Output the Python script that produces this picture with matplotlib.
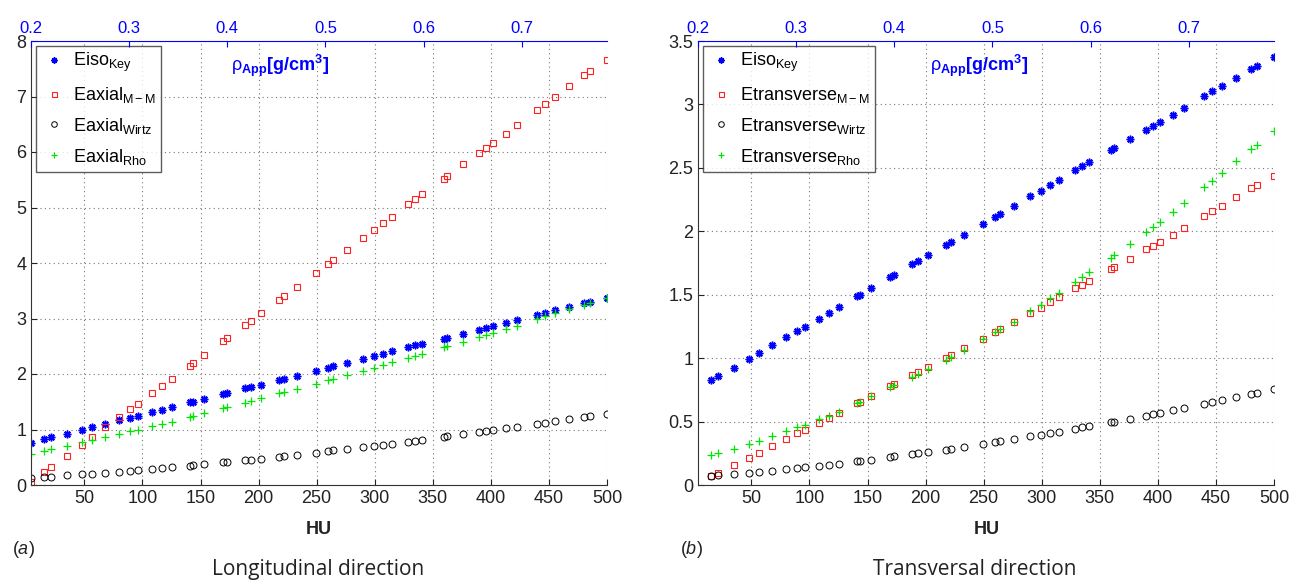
import matplotlib
matplotlib.use("Agg")
import matplotlib.pyplot as plt

plt.rcParams['font.family'] = ['Liberation Sans', 'DejaVu Sans']
plt.rcParams['mathtext.fontset'] = 'custom'
plt.rcParams['mathtext.rm'] = 'Liberation Sans'
plt.rcParams['mathtext.it'] = 'Liberation Sans:italic'
plt.rcParams['mathtext.bf'] = 'Liberation Sans:bold'

# HU values (shared by all series)
hu = [4, 15.5, 21, 35, 48, 56.5, 68, 80, 89.5, 96, 108, 117, 125, 141, 143.5,
      153, 169, 173, 188.5, 193.5, 202, 217.5, 222, 233, 249, 260, 264, 276,
      290, 299, 307, 315, 329, 335, 341, 360, 362, 376, 390, 396, 402, 413,
      422.5, 440, 447, 455.5, 467.5, 480, 485, 500]

eiso_key = [0.76, 0.828, 0.857, 0.925, 0.996, 1.04, 1.10, 1.164, 1.214, 1.248,
            1.311, 1.356, 1.40, 1.487, 1.50, 1.553, 1.637, 1.658, 1.739, 1.766,
            1.81, 1.892, 1.915, 1.972, 2.055, 2.112, 2.139, 2.197, 2.275, 2.32,
            2.365, 2.407, 2.48, 2.514, 2.546, 2.638, 2.656, 2.727, 2.80, 2.83,
            2.861, 2.919, 2.974, 3.066, 3.103, 3.148, 3.211, 3.279, 3.305, 3.376]

# longitudinal (a)
eaxial_mm = [0.054, 0.234, 0.324, 0.528, 0.726, 0.858, 1.037, 1.223, 1.367, 1.463,
             1.649, 1.781, 1.907, 2.153, 2.195, 2.339, 2.59, 2.645, 2.885, 2.963,
             3.094, 3.328, 3.40, 3.574, 3.814, 3.988, 4.054, 4.228, 4.456, 4.588,
             4.714, 4.834, 5.055, 5.145, 5.241, 5.517, 5.565, 5.775, 5.985, 6.081,
             6.165, 6.333, 6.483, 6.759, 6.867, 6.998, 7.184, 7.382, 7.454, 7.658]
eaxial_wirtz = [0.132, 0.144, 0.15, 0.174, 0.192, 0.204, 0.222, 0.24, 0.258, 0.27,
                0.288, 0.30, 0.318, 0.348, 0.354, 0.372, 0.408, 0.414, 0.444, 0.45,
                0.474, 0.51, 0.516, 0.54, 0.582, 0.606, 0.624, 0.648, 0.684, 0.70,
                0.726, 0.744, 0.78, 0.792, 0.81, 0.87, 0.876, 0.912, 0.948, 0.966,
                0.984, 1.02, 1.043, 1.097, 1.115, 1.145, 1.181, 1.223, 1.235, 1.277]
eaxial_rho = [0.564, 0.618, 0.642, 0.70, 0.768, 0.81, 0.87, 0.924, 0.972, 1.00,
              1.06, 1.103, 1.139, 1.229, 1.241, 1.289, 1.379, 1.397, 1.481, 1.505,
              1.559, 1.649, 1.673, 1.733, 1.823, 1.883, 1.913, 1.973, 2.063, 2.117,
              2.165, 2.213, 2.297, 2.333, 2.369, 2.489, 2.501, 2.579, 2.669, 2.705,
              2.741, 2.813, 2.873, 2.993, 3.041, 3.094, 3.172, 3.244, 3.28, 3.37]

# transversal (b) - starts at second HU value
etrans_mm = [0.07, 0.092, 0.155, 0.215, 0.255, 0.307, 0.363, 0.407, 0.436, 0.491,
             0.531, 0.568, 0.644, 0.654, 0.70, 0.778, 0.796, 0.864, 0.891, 0.933,
             1.004, 1.025, 1.077, 1.153, 1.206, 1.227, 1.282, 1.353, 1.395, 1.44,
             1.479, 1.55, 1.579, 1.611, 1.70, 1.716, 1.784, 1.858, 1.886, 1.918,
             1.973, 2.026, 2.12, 2.157, 2.202, 2.267, 2.338, 2.365, 2.438]
etrans_wirtz = [0.071, 0.076, 0.087, 0.095, 0.102, 0.11, 0.123, 0.131, 0.139, 0.15,
                0.158, 0.166, 0.187, 0.189, 0.20, 0.221, 0.226, 0.244, 0.25, 0.26,
                0.279, 0.284, 0.30, 0.32, 0.336, 0.344, 0.36, 0.384, 0.397, 0.41,
                0.42, 0.444, 0.455, 0.465, 0.494, 0.499, 0.523, 0.547, 0.557, 0.568,
                0.589, 0.607, 0.638, 0.652, 0.667, 0.691, 0.715, 0.725, 0.754]
etrans_rho = [0.236, 0.25, 0.286, 0.323, 0.347, 0.384, 0.423, 0.455, 0.476, 0.518,
              0.544, 0.578, 0.644, 0.657, 0.70, 0.77, 0.786, 0.854, 0.872, 0.912,
              0.988, 1.009, 1.062, 1.148, 1.206, 1.227, 1.287, 1.372, 1.421, 1.474,
              1.516, 1.603, 1.64, 1.676, 1.789, 1.81, 1.90, 1.994, 2.034, 2.073,
              2.149, 2.22, 2.346, 2.396, 2.459, 2.551, 2.651, 2.683, 2.793]

hu_ticks = [50, 100, 150, 200, 250, 300, 350, 400, 450, 500]
rho_ticks = [0.2, 0.3, 0.4, 0.5, 0.6, 0.7]

BLUE = '#0000ff'
RED = '#ff2020'
GREEN = '#00e600'


def draw_panel(ax, x, series, labels, ylim, yticks, ytlabels, rho_x):
    styles = [dict(marker=(8, 2, 0), color=BLUE, ms=5.5, mew=1.1),
              dict(marker='s', color=RED, ms=4.5, mew=0.8, mfc='none'),
              dict(marker='o', color='black', ms=5, mew=0.7, mfc='none'),
              dict(marker='+', color=GREEN, ms=6, mew=0.9)]
    for (xs, ys), lab, st in zip(series, labels, styles):
        ax.plot(xs, ys, linestyle='none', label=lab, **st)

    ax.set_xlim(4, 500)
    ax.set_ylim(*ylim)
    ax.set_xticks(hu_ticks)
    ax.set_yticks(yticks)
    ax.set_yticklabels(ytlabels)
    ax.tick_params(direction='in', length=4, labelsize=13, colors='#222222')
    ax.grid(True, linestyle=(0, (1, 3)), color='#777777', linewidth=0.8)
    ax.spines['top'].set_visible(False)
    ax.spines['right'].set_visible(False)
    ax.spines['left'].set_color('#333333')
    ax.spines['bottom'].set_color('#333333')

    leg = ax.legend(loc='upper left', fontsize=13, frameon=True, fancybox=False,
                    borderaxespad=0.25, handletextpad=0.3, labelspacing=0.6,
                    handlelength=1.5, borderpad=0.3, markerscale=0.8)
    leg.get_frame().set_edgecolor('#333333')
    leg.get_frame().set_linewidth(1.0)

    top = ax.twiny()
    top.set_xlim(0.2, 0.787)
    top.set_xticks(rho_ticks)
    top.set_xticklabels(['0.2', '0.3', '0.4', '0.5', '0.6', '0.7'])
    top.tick_params(direction='in', length=4, labelsize=12, colors=BLUE)
    for s in ['bottom', 'left', 'right']:
        top.spines[s].set_visible(False)
    top.spines['top'].set_color(BLUE)

    ax.text(rho_x, 0.945, r'$\mathrm{\rho}_{\mathbf{App}}\mathbf{[g/cm}^{\mathbf{3}}\mathbf{]}$',
            transform=ax.transAxes, color=BLUE, fontsize=13, ha='left', va='center')


fig = plt.figure(figsize=(12.91, 5.82), dpi=100)
ax1 = fig.add_axes([31 / 1291, 97 / 582, 576 / 1291, 444 / 582])
ax2 = fig.add_axes([698 / 1291, 97 / 582, 576 / 1291, 444 / 582])

draw_panel(ax1,
           hu,
           [(hu, eiso_key), (hu, eaxial_mm), (hu, eaxial_wirtz), (hu, eaxial_rho)],
           [r'Eiso$_{\mathrm{Key}}$', r'Eaxial$_{\mathrm{M-M}}$',
            r'Eaxial$_{\mathrm{Wirtz}}$', r'Eaxial$_{\mathrm{Rho}}$'],
           (0, 8), [0, 1, 2, 3, 4, 5, 6, 7, 8],
           ['0', '1', '2', '3', '4', '5', '6', '7', '8'], 0.348)

hu_b = hu[1:]
draw_panel(ax2,
           hu_b,
           [(hu_b, eiso_key[1:]), (hu_b, etrans_mm), (hu_b, etrans_wirtz), (hu_b, etrans_rho)],
           [r'Eiso$_{\mathrm{Key}}$', r'Etransverse$_{\mathrm{M-M}}$',
            r'Etransverse$_{\mathrm{Wirtz}}$', r'Etransverse$_{\mathrm{Rho}}$'],
           (0, 3.5), [0, 0.5, 1, 1.5, 2, 2.5, 3, 3.5],
           ['0', '0.5', '1', '1.5', '2', '2.5', '3', '3.5'], 0.402)

# bottom labels
fig.text(319 / 1291, 1 - 530 / 582, 'HU', fontsize=13, fontweight='bold',
         ha='center', va='center', color='#222222')
fig.text(987 / 1291, 1 - 530 / 582, 'HU', fontsize=13, fontweight='bold',
         ha='center', va='center', color='#222222')
fig.text(12 / 1291, 1 - 549 / 582, r'($\mathit{a}$)', fontsize=13,
         ha='left', va='center', color='#222222')
fig.text(680 / 1291, 1 - 549 / 582, r'($\mathit{b}$)', fontsize=13,
         ha='left', va='center', color='#222222')
fig.text(318 / 1291, 1 - 580 / 582, 'Longitudinal direction', fontsize=15,
         family='Open Sans', ha='center', va='bottom', color='#222222')
fig.text(975 / 1291, 1 - 580 / 582, 'Transversal direction', fontsize=15,
         family='Open Sans', ha='center', va='bottom', color='#222222')

fig.savefig('out.png', dpi=100)
